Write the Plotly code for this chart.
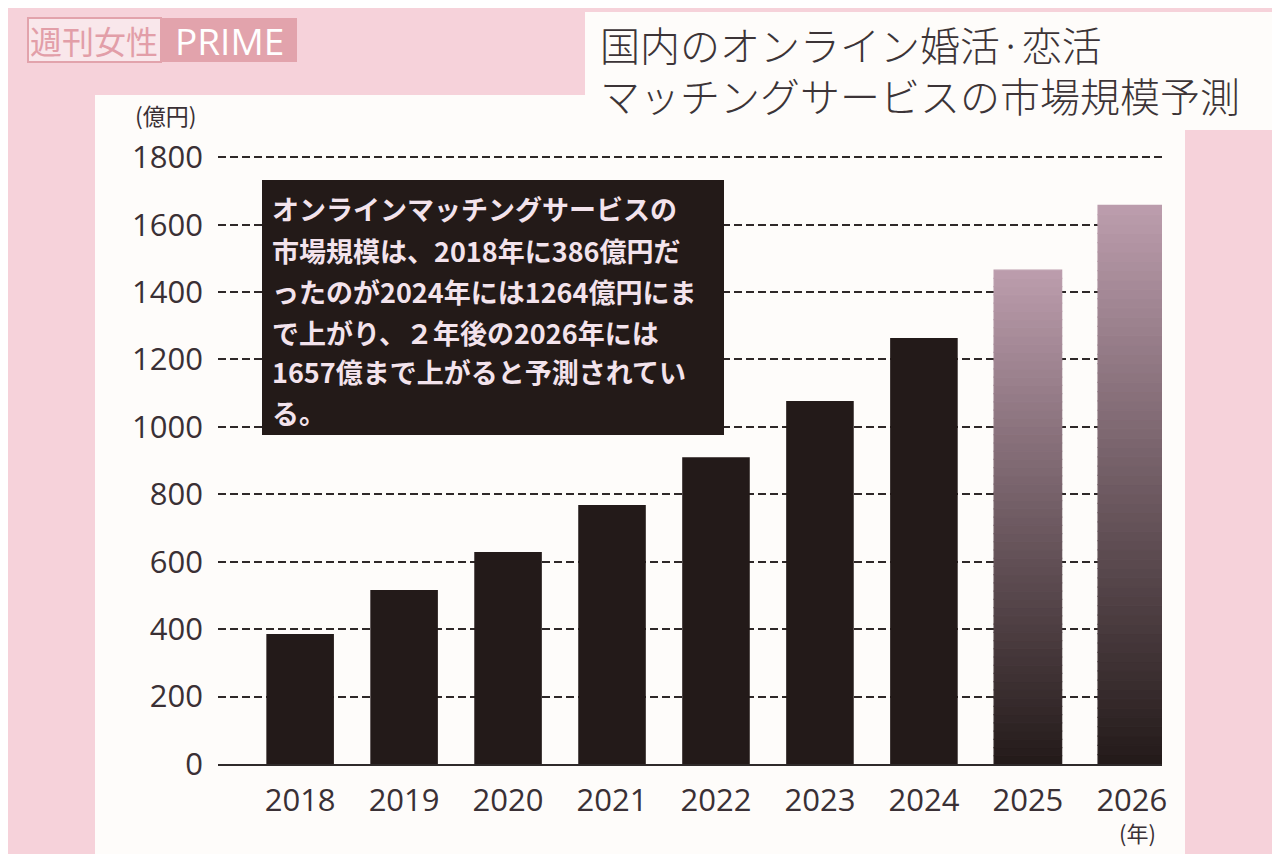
import plotly.graph_objects as go

# ---- data ----
years = ["2018", "2019", "2020", "2021", "2022", "2023", "2024", "2025", "2026"]
values = [386, 516, 629, 768, 910, 1077, 1264, 1465, 1657]
forecast_years = ["2025", "2026"]
y_ticks = [0, 200, 400, 600, 800, 1000, 1200, 1400, 1600, 1800]
title_lines = ["国内のオンライン婚活·恋活", "マッチングサービスの市場規模予測"]
note_lines = [
    "オンラインマッチングサービスの",
    "市場規模は、2018年に386億円だ",
    "ったのが2024年には1264億円にま",
    "で上がり、２年後の2026年には",
    "1657億まで上がると予測されてい",
    "る。",
]

W, H = 1280, 854
OFF = 8  # page body margin
L, R, T, B = 218 - OFF, 1162 - OFF, 137 - OFF, 764 - OFF


def px(x):
    return (x - OFF - L) / (R - L)


def py(y):
    return (B - (y - OFF)) / (B - T)


def mix(c1, c2, t):
    a = [int(c1[i:i + 2], 16) for i in (1, 3, 5)]
    b = [int(c2[i:i + 2], 16) for i in (1, 3, 5)]
    return "rgb(%d,%d,%d)" % tuple(round(a[k] + (b[k] - a[k]) * t) for k in range(3))


DARK = "#231a19"
TOP = "#bc9dad"

fig = go.Figure()

actual_x = [y for y in years if y not in forecast_years]
actual_v = [v for y, v in zip(years, values) if y not in forecast_years]
fig.add_trace(go.Bar(x=actual_x, y=actual_v, width=0.65,
                     marker=dict(color=DARK, line=dict(width=0)),
                     hoverinfo="x+y"))

# forecast bars with vertical gradient (drawn as thin stacked bands)
N = 60
gx, gb, gy, gc = [], [], [], []
for y, v in zip(years, values):
    if y in forecast_years:
        for k in range(N):
            gx.append(y)
            gb.append(v * k / N)
            gy.append(v / N)
            gc.append(mix(DARK, TOP, (k + 0.5) / N))
fig.add_trace(go.Bar(x=gx, y=gy, base=gb, width=0.65,
                     marker=dict(color=gc, line=dict(width=1.2, color=gc)),
                     hoverinfo="skip"))

shapes = [
    # white chart panel
    dict(type="rect", xref="paper", yref="paper", layer="below",
         x0=px(95), x1=px(1185), y0=py(95), y1=py(870),
         fillcolor="#fefcfa", line=dict(width=0)),
    # white title panel
    dict(type="rect", xref="paper", yref="paper", layer="below",
         x0=px(585), x1=px(1300), y0=py(12), y1=py(130),
         fillcolor="#fefcfa", line=dict(width=0)),
    # logo boxes
    dict(type="rect", xref="paper", yref="paper", layer="below",
         x0=px(28), x1=px(161), y0=py(18), y1=py(62),
         fillcolor="#f9e7eb", line=dict(width=2, color="#e2a3ac")),
    dict(type="rect", xref="paper", yref="paper", layer="below",
         x0=px(161), x1=px(297), y0=py(18), y1=py(62),
         fillcolor="#e2a3ac", line=dict(width=0)),
    # note box
    dict(type="rect", xref="paper", yref="paper", layer="above",
         x0=px(262), x1=px(724), y0=py(180), y1=py(435),
         fillcolor="#231a18", line=dict(width=0)),
]

annotations = [
    dict(text="週刊女性", x=px(94), y=py(40), xref="paper", yref="paper",
         showarrow=False, xanchor="center", yanchor="middle",
         font=dict(family="Noto Sans CJK JP", size=32, color="#e29ea8")),
    dict(text="PRIME", x=px(229), y=py(40), xref="paper", yref="paper",
         showarrow=False, xanchor="center", yanchor="middle",
         font=dict(family="Open Sans", size=37, color="#ffffff")),
    dict(text="(億円)", x=px(166), y=py(115), xref="paper", yref="paper",
         showarrow=False, xanchor="center", yanchor="middle",
         font=dict(family="Noto Sans CJK JP", size=23, color="#3a3035")),
    dict(text="(年)", x=px(1137), y=py(832), xref="paper", yref="paper",
         showarrow=False, xanchor="center", yanchor="middle",
         font=dict(family="Noto Sans CJK JP", size=22, color="#3a3035")),
]
for i, line in enumerate(title_lines):
    annotations.append(dict(text=line, x=px(598), y=py(44 + 51 * i),
                            xref="paper", yref="paper", showarrow=False,
                            xanchor="left", yanchor="middle",
                            font=dict(family="Noto Sans CJK JP", size=40,
                                      color="#3c3437", weight=300)))
note_y = [208, 250, 291, 332, 371, 412]
for line, yy in zip(note_lines, note_y):
    annotations.append(dict(text="<b>" + line + "</b>", x=px(270), y=py(yy),
                            xref="paper", yref="paper", showarrow=False,
                            xanchor="left", yanchor="middle",
                            font=dict(family="Noto Sans CJK JP", size=27,
                                      color="#f3e3ec")))

tickfont = dict(family="Open Sans", size=31, color="#3a3035")

fig.update_layout(
    width=W, height=H,
    margin=dict(l=L, r=W - R, t=T, b=H - B, pad=0),
    paper_bgcolor="#f6d2da",
    plot_bgcolor="#fefcfa",
    barmode="overlay",
    showlegend=False,
    shapes=shapes,
    annotations=annotations,
    xaxis=dict(type="category", categoryorder="array", categoryarray=years,
               range=[-0.79, 8.29], showline=True, linecolor="#2f2a2a",
               linewidth=2, ticks="", showgrid=False, tickfont=tickfont,
               ticklabelstandoff=8, fixedrange=True),
    yaxis=dict(range=[0, 1860], tickvals=y_ticks, showgrid=True,
               gridcolor="#2e2828", gridwidth=2, griddash="8px,4px",
               zeroline=False, showline=False, ticks="", tickfont=tickfont,
               ticklabelstandoff=14, fixedrange=True),
)

fig.write_html("out.html")
